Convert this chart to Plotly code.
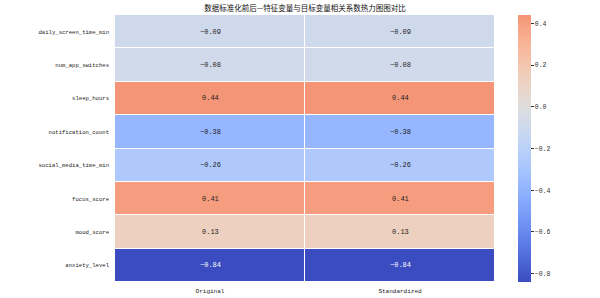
import plotly.graph_objects as go

features = ["daily_screen_time_min", "num_app_switches", "sleep_hours", "notification_count",
            "social_media_time_min", "focus_score", "mood_score", "anxiety_level"]
columns = ["Original", "Standardized"]
original = [-0.09, -0.08, 0.44, -0.38, -0.26, 0.41, 0.13, -0.84]
standardized = [-0.09, -0.08, 0.44, -0.38, -0.26, 0.41, 0.13, -0.84]
cbar_ticks = [0.4, 0.2, 0.0, -0.2, -0.4, -0.6, -0.8]
title = "数据标准化前后—特征变量与目标变量相关系数热力图图对比"

# matplotlib coolwarm (Moreland) control points
cw = [(0.0, 59, 76, 192), (0.03125, 68, 90, 204), (0.0625, 77, 104, 215), (0.09375, 87, 117, 225),
      (0.125, 98, 130, 234), (0.15625, 108, 142, 241), (0.1875, 119, 154, 247), (0.21875, 130, 165, 251),
      (0.25, 141, 176, 254), (0.28125, 152, 185, 255), (0.3125, 163, 194, 255), (0.34375, 174, 201, 253),
      (0.375, 184, 208, 249), (0.40625, 194, 213, 244), (0.4375, 204, 217, 238), (0.46875, 213, 219, 230),
      (0.5, 221, 221, 221), (0.53125, 229, 216, 209), (0.5625, 236, 211, 197), (0.59375, 241, 204, 185),
      (0.625, 245, 196, 173), (0.65625, 247, 187, 160), (0.6875, 247, 177, 148), (0.71875, 247, 166, 135),
      (0.75, 244, 154, 123), (0.78125, 241, 141, 111), (0.8125, 236, 127, 99), (0.84375, 229, 112, 88),
      (0.875, 222, 96, 77), (0.90625, 213, 80, 66), (0.9375, 203, 62, 56), (0.96875, 192, 40, 47),
      (1.0, 180, 4, 38)]


def cw_at(t):
    for i in range(len(cw) - 1):
        a, b = cw[i], cw[i + 1]
        if a[0] <= t <= b[0]:
            f = (t - a[0]) / (b[0] - a[0])
            return tuple(a[k] + f * (b[k] - a[k]) for k in (1, 2, 3))
    return cw[-1][1:]


allv = original + standardized
vmin, vmax = min(allv), max(allv)
vr = max(abs(vmin), abs(vmax))
lo, hi = (vmin + vr) / (2 * vr), (vmax + vr) / (2 * vr)
n = 40
colorscale = []
for i in range(n + 1):
    t = lo + (hi - lo) * i / n
    r, g, b = cw_at(t)
    colorscale.append([i / n, f"rgb({r:.0f},{g:.0f},{b:.0f})"])

z = [[o, s] for o, s in zip(original, standardized)]

mono = "Liberation Mono"

fig = go.Figure()
fig.add_trace(go.Heatmap(
    z=z, x=columns, y=features, zmin=vmin, zmax=vmax,
    colorscale=colorscale, xgap=1, ygap=1, showscale=True,
    colorbar=dict(x=1.0605, xanchor="left", xpad=0, ypad=0, y=0.5, len=1, lenmode="fraction",
                  thickness=13, outlinewidth=0, tickvals=cbar_ticks,
                  ticktext=[f"{v:.1f}".replace("-", "−") for v in cbar_ticks],
                  ticks="outside", ticklen=3, tickwidth=1, tickcolor="#333",
                  tickfont=dict(family=mono, size=6.5, color="#333")),
    hoverinfo="skip",
))

for fi, feat in enumerate(features):
    for ci, col in enumerate(columns):
        v = z[fi][ci]
        t = (v + vr) / (2 * vr)
        r, g, b = cw_at(t)
        lum = 0.2126 * (r / 255) ** 2.2 + 0.7152 * (g / 255) ** 2.2 + 0.0722 * (b / 255) ** 2.2
        fig.add_annotation(x=col, y=feat, text=f"{v:.2f}".replace("-", "−"), showarrow=False,
                           font=dict(family=mono, size=7,
                                     color="white" if lum < 0.408 else "#222"))

fig.update_layout(
    width=600, height=298,
    margin=dict(l=115, r=105, t=15, b=16),
    paper_bgcolor="white", plot_bgcolor="white",
    title=dict(text=title, x=0.5, xref="paper", xanchor="center", y=1 - 8 / 298, yanchor="middle",
               font=dict(family="Noto Sans CJK SC", size=7.5, color="#111")),
    xaxis=dict(showgrid=False, zeroline=False, ticks="", automargin=False, ticklabelstandoff=4,
               tickfont=dict(family=mono, size=6, color="#222")),
    yaxis=dict(showgrid=False, zeroline=False, ticks="", autorange="reversed", automargin=False,
               ticklabelstandoff=5, tickfont=dict(family=mono, size=5.6, color="#222")),
)

fig.write_html("out.html")
